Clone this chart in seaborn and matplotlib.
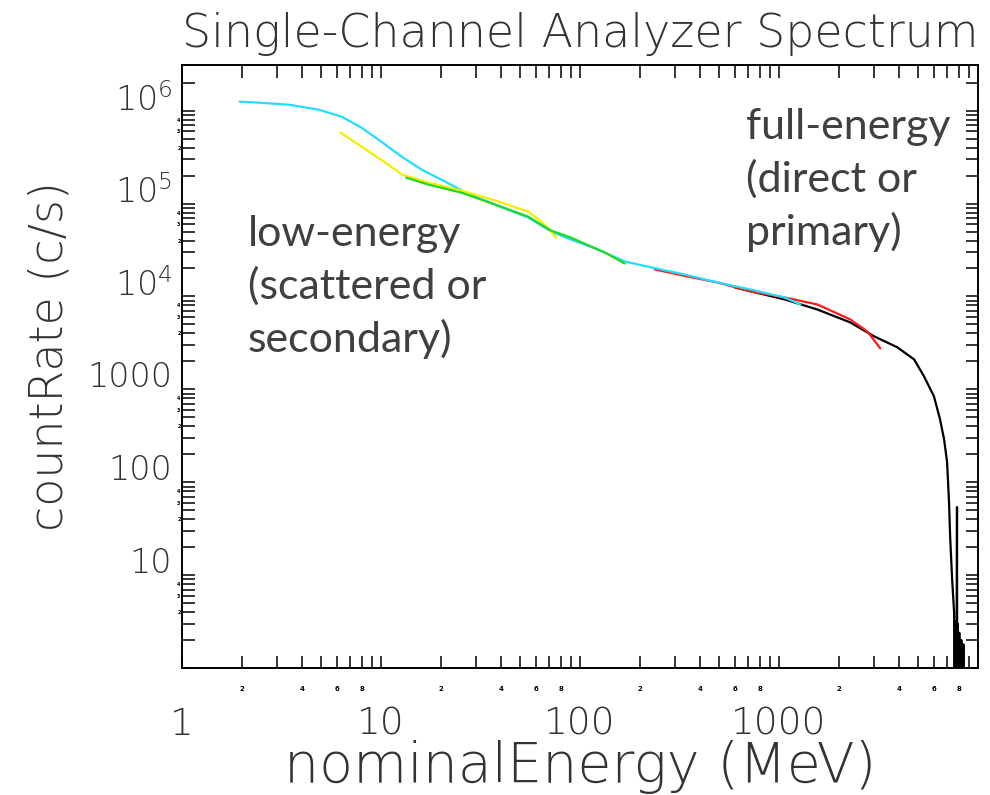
import matplotlib
matplotlib.use('Agg')
import matplotlib.pyplot as plt
import seaborn as sns
import pandas as pd

sns.set_style('white')
plt.rcParams['font.family'] = ['DejaVu Sans']
plt.rcParams['font.weight'] = 'light'
plt.rcParams['axes.linewidth'] = 1.4

#%% data (energy in MeV, count rate in c/s)

cyan_e = [1.95, 2.43, 3.44, 4.86, 6.34, 7.98, 9.71, 12.7, 16.0, 21.0, 26.5,
          37.5, 54.8, 71.6, 90.1, 123, 168, 227, 336, 492, 720, 1066, 1282]
cyan_r = [6.25e5, 6.1e5, 5.8e5, 5.13e5, 4.31e5, 3.28e5, 2.44e5, 1.6e5, 1.16e5, 8.62e4, 6.6e4,
          4.85e4, 3.55e4, 2.5e4, 2.05e4, 1.6e4, 1.19e4, 1.03e4, 8.6e3, 7.07e3, 5.94e3, 4.88e3, 4.1e3]

yellow_e = [6.27, 7.98, 10.5, 12.7, 17.3, 25.3, 37.5, 54.8, 63.8, 71.6, 75.8]
yellow_r = [2.9e5, 2.05e5, 1.38e5, 1.03e5, 8.4e4, 6.9e4, 5.4e4, 4.1e4, 3.2e4, 2.5e4, 2.15e4]

green_e = [13.4, 17.3, 25.3, 37.5, 54.8, 71.6, 90.1, 133, 168]
green_r = [9.5e4, 8.0e4, 6.56e4, 4.88e4, 3.62e4, 2.56e4, 2.15e4, 1.49e4, 1.13e4]

red_e = [238, 348, 492, 720, 1066, 1560, 2280, 2780, 3230]
red_r = [9.75e3, 8.2e3, 7.07e3, 5.66e3, 4.88e3, 4.1e3, 2.83e3, 2.1e3, 1.38e3]

black_e = [600, 1066, 1560, 2280, 3010, 3930, 4780, 5360, 6010, 6450, 6760, 7000,
           7160, 7250, 7420, 7590, 7640, 7680, 7720, 7760, 7800, 7850, 7870, 7900,
           7940, 7980, 8020, 8060, 8100, 8150, 8200, 8250, 8300, 8350, 8400, 8450, 8500]
black_r = [6.25e3, 4.65e3, 3.62e3, 2.63e3, 1.86e3, 1.42e3, 1.05e3, 690, 421, 238, 145, 82,
           30, 13, 4.5, 2.0, 0.2, 1.6, 0.2, 1.5, 0.2, 27, 0.2, 1.5,
           0.2, 1.2, 0.2, 1.2, 0.2, 1.0, 0.2, 1.0, 0.2, 0.9, 0.2, 0.9, 0.2]

x_major = [1, 10, 100, 1000]
x_major_labels = ['1', '10', '100', '1000']
y_major = [1, 10, 100, 1000, 1e4, 1e5, 1e6]
y_major_labels = ['', '10', '100', '1000', r'$\mathregular{10^4}$',
                  r'$\mathregular{10^5}$', r'$\mathregular{10^6}$']

channels = ['black', 'red', 'cyan', 'yellow', 'green']
palette = {'black': '#000000', 'red': '#ff1a1a', 'cyan': '#22ddff',
           'yellow': '#f2ee00', 'green': '#22d822'}

df = pd.concat([
    pd.DataFrame({'energy': black_e, 'rate': black_r, 'channel': 'black'}),
    pd.DataFrame({'energy': red_e, 'rate': red_r, 'channel': 'red'}),
    pd.DataFrame({'energy': cyan_e, 'rate': cyan_r, 'channel': 'cyan'}),
    pd.DataFrame({'energy': yellow_e, 'rate': yellow_r, 'channel': 'yellow'}),
    pd.DataFrame({'energy': green_e, 'rate': green_r, 'channel': 'green'}),
], ignore_index=True)

#%% plot

txtcol = '#333333'
fig = plt.figure(figsize=(9.9, 7.95), dpi=100)
ax = fig.add_axes([0.1838, 0.1597, 0.8040, 0.7585])

sns.lineplot(data=df, x='energy', y='rate', hue='channel', hue_order=channels,
             palette=palette, estimator=None, sort=False, lw=1.6, legend=False, ax=ax)

ax.set_xscale('log')
ax.set_yscale('log')

# IDL-style ticks: inward on all four sides, tiny minor labels
ax.set_xticks(x_major, labels=x_major_labels)
x_minor = [k * 10**d for d in range(4) for k in range(2, 10)]
ax.set_xticks(x_minor, labels=[str(k) if k in (2, 4, 6, 8) else '' for d in range(4) for k in range(2, 10)],
              minor=True)
ax.set_yticks(y_major, labels=y_major_labels)
y_minor_k = [1.5, 2, 2.5, 3, 3.5, 4, 4.5, 5]
y_minor = [k * 10**d for d in range(-1, 6) for k in y_minor_k]
ax.set_yticks(y_minor, labels=[str(int(k)) if k in (2, 3, 4) else '' for d in range(-1, 6) for k in y_minor_k],
              minor=True)
ax.set_xlim(1, 1e4)
ax.set_ylim(0.5, 1.55e6)

ax.tick_params(which='both', direction='in', bottom=True, left=True, top=True, right=True,
               length=9, width=1.1, colors='k', labelcolor=txtcol)
ax.tick_params(axis='x', which='major', labelsize=27, pad=28)
ax.tick_params(axis='x', which='minor', labelsize=5, pad=13, labelcolor='k')
ax.tick_params(axis='y', which='major', labelsize=24, pad=7)
ax.tick_params(axis='y', which='minor', labelsize=3.5, pad=1, labelcolor='k')
for lab in ax.get_yticklabels():
    lab.set_verticalalignment('top')
for lab in ax.get_xticklabels(minor=True) + ax.get_yticklabels(minor=True):
    lab.set_fontweight('bold')

ax.set_title('Single-Channel Analyzer Spectrum', fontsize=33, fontweight='light',
             color=txtcol, pad=13)
ax.set_xlabel('nominalEnergy (MeV)', fontsize=40, fontweight='light', color=txtcol, va='baseline')
ax.xaxis.set_label_coords(0.5, -0.189)
ax.set_ylabel('countRate (c/s)', fontsize=33, fontweight='light', color=txtcol, rotation=90,
              rotation_mode='anchor', ha='center', va='baseline')
ax.yaxis.set_label_coords(-0.1495, 0.517)

# slide annotations (va='baseline' pins the last line's baseline)
ax.text(0.083, 0.524, 'low-energy\n(scattered or\nsecondary)', transform=ax.transAxes,
        family='Lato', fontweight='normal', fontsize=31, color='#404040',
        va='baseline', ha='left', linespacing=1.4)
ax.text(0.7085, 0.7015, 'full-energy\n(direct or\nprimary)', transform=ax.transAxes,
        family='Lato', fontweight='normal', fontsize=31, color='#404040',
        va='baseline', ha='left', linespacing=1.4)

for s in ax.spines.values():
    s.set_color('k')

fig.savefig('out.png', dpi=100)
